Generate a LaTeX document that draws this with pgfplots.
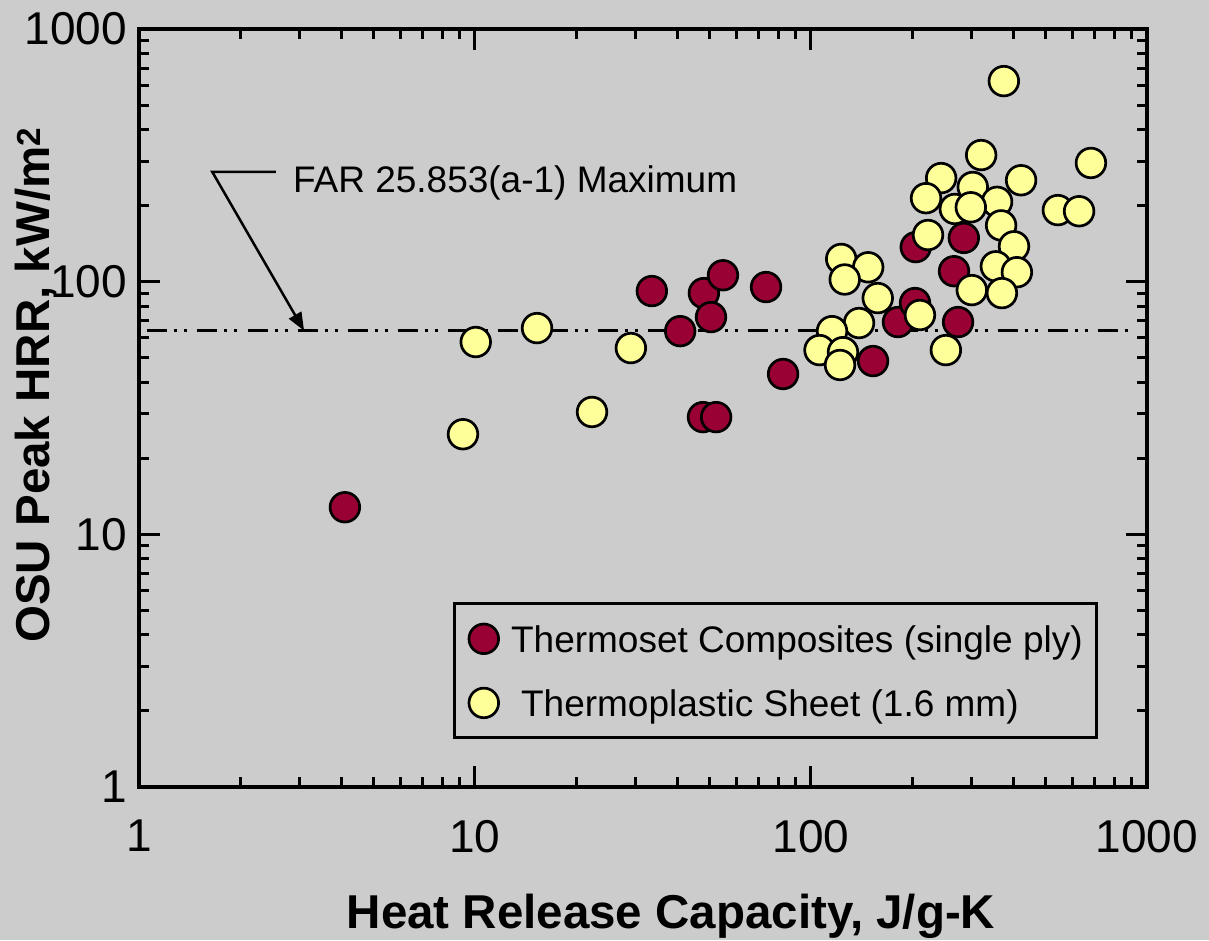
\documentclass[border=0pt]{standalone}
\usepackage{fontspec}
\setmainfont{Liberation Sans}
\usepackage{pgfplots}
\pgfplotsset{compat=1.18}
\usetikzlibrary{arrows.meta}
\definecolor{bg}{RGB}{204,204,204}
\definecolor{thermoset}{RGB}{153,0,51}
\definecolor{thermoplastic}{RGB}{255,255,153}

\begin{document}
\begin{tikzpicture}
\fill[bg] (0,0) rectangle (1209pt,940pt);
\path[use as bounding box] (0,0) rectangle (1209pt,940pt);
\begin{axis}[
    at={(139pt,153pt)}, anchor=south west,
    scale only axis, width=1008pt, height=758pt,
    xmode=log, ymode=log,
    xmin=1, xmax=1000, ymin=1, ymax=1000,
    xtick={1,10,100,1000}, xticklabels={1,10,100,1000},
    ytick={1,10,100,1000}, yticklabels={1,10,100,1000},
    axis line style={line width=3.5pt},
    every tick/.style={black, line width=3pt},
    major tick length=21pt, minor tick length=10pt,
    tick label style={font=\fontsize{46}{50}\selectfont},
    xticklabel style={anchor=north, inner sep=0pt, yshift=-33pt},
    yticklabel style={anchor=east, inner sep=0pt, xshift=-12pt},
    label style={font=\bfseries\fontsize{47.5}{52}\selectfont},
    xlabel={Heat Release Capacity, J/g-K},
    ylabel={OSU Peak HRR, kW/m\textsuperscript{2}},
    xlabel style={at={(axis description cs:0.5278,-0.1873)}, anchor=base},
    ylabel style={at={(axis description cs:-0.0883,0.5303)}, anchor=base},
    legend image code/.code={\draw[#1] plot coordinates {(0pt,0pt)};},
    legend style={at={(0.3120,0.0627)}, anchor=south west,
        draw=black, line width=3pt, fill=none,
        inner xsep=14pt, inner ysep=15pt,
        row sep=24pt, column sep=12.5pt,
        font=\fontsize{37}{40}\selectfont,
        nodes={inner sep=0pt, text height=33.3pt, text depth=6.8pt},
        cells={anchor=west}},
]
% FAR limit line
\addplot[forget plot, black, line width=3pt,
    dash pattern=on 20pt off 7pt on 3pt off 7pt on 3pt off 10pt]
    coordinates {(1.06,64) (902,64)};

\addplot[only marks, mark=*, mark size=14.8pt, line width=2.7pt,
    mark options={draw=black, fill=thermoset}]
    coordinates {
    (4.10,12.8) (33.6,91.8) (40.8,63.7) (48.0,90.1) (54.7,106)
    (73.5,95.2) (50.4,72.4) (82.6,43.1) (47.7,29.1) (52.2,29.1)
    (153,48.5) (181.5,69.2) (204,82.3) (205,137) (285,149)
    (266.5,110) (274,69.2)
    };
\addlegendentry{Thermoset Composites (single ply)}

\addplot[only marks, mark=*, mark size=14.8pt, line width=2.7pt,
    mark options={draw=black, fill=thermoplastic}]
    coordinates {
    (10.05,57.7) (15.3,65.5) (29.1,54.6) (22.3,30.5) (9.21,24.9)
    (375,622) (321,317) (681,295) (244,257) (422,252)
    (303,237) (220,214) (358,207) (268,194) (299,197)
    (543,192) (628,190) (368,167) (223,153) (402,138)
    (123,123) (148,114) (126,102) (355,115) (410,109)
    (158,86.1) (301,92.6) (370,90.1) (211,73.8) (139,68.6)
    (115.5,63.7) (106,53.6) (124.5,52.6) (122,46.8) (252,53.6)
    };
\addlegendentry{\hspace*{10pt}Thermoplastic Sheet (1.6 mm)}

% annotation
\draw[line width=2.5pt, -{Triangle[length=18pt,width=14pt]}]
    (axis cs:2.557,272) -- (axis cs:1.652,272) -- (axis cs:3.10,64);
\node[anchor=base west, inner sep=0pt, font=\fontsize{37}{40}\selectfont]
    at (axis cs:2.87,226) {FAR 25.853(a-1) Maximum};
\end{axis}
\end{tikzpicture}
\end{document}
